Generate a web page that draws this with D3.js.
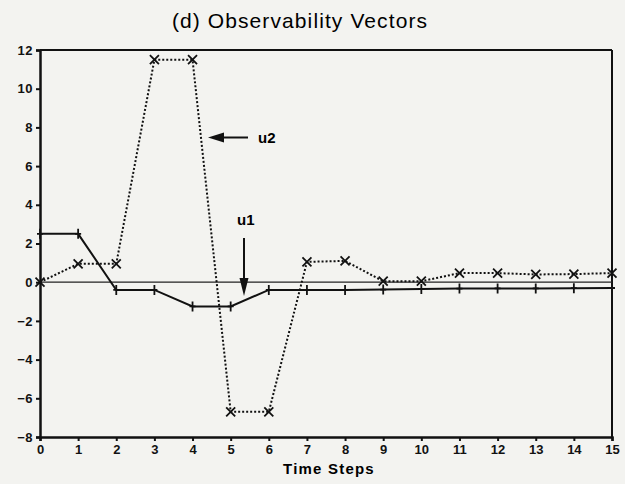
<!DOCTYPE html>
<meta charset="utf-8">
<script src="https://d3js.org/d3.v7.min.js"></script>
<style>
  body { margin: 0; background: #f3f3f0; }
  text { font-family: "Liberation Sans", Arial, sans-serif; }
</style>
<div id="my_dataviz"></div>
<script>
// Data
var steps = d3.range(0, 16);
var u1 = [2.5, 2.5, -0.4, -0.4, -1.25, -1.25, -0.4, -0.4, -0.4, -0.38, -0.35, -0.33, -0.32, -0.32, -0.31, -0.3];
var u2 = [0, 0.95, 0.95, 11.5, 11.5, -6.7, -6.7, 1.05, 1.1, 0.05, 0.05, 0.47, 0.47, 0.4, 0.42, 0.47];
var yTicks = [-8, -6, -4, -2, 0, 2, 4, 6, 8, 10, 12];

var margin = {top: 50, right: 13, bottom: 47, left: 40},
    width = 625 - margin.left - margin.right,
    height = 484 - margin.top - margin.bottom;

var root = d3.select("#my_dataviz")
  .append("svg")
    .attr("width", 625)
    .attr("height", 484);

root.append("text")
  .attr("x", 300).attr("y", 28)
  .attr("text-anchor", "middle")
  .style("font-size", "21px")
  .style("letter-spacing", "1.1px")
  .text("(d) Observability Vectors");

var svg = root.append("g")
  .attr("transform", "translate(" + margin.left + "," + margin.top + ")");

var x = d3.scaleLinear().domain([0, 15]).range([0, width]);
var y = d3.scaleLinear().domain([-8, 12]).range([height, 0]);

// Axes
var xAxis = svg.append("g")
  .attr("transform", "translate(0," + height + ")")
  .call(d3.axisBottom(x).tickValues(steps).tickSize(4).tickPadding(4).tickFormat(d3.format("d")));
var yAxis = svg.append("g")
  .call(d3.axisLeft(y).tickValues(yTicks).tickSize(4).tickPadding(3));

[xAxis, yAxis].forEach(function(a) {
  a.select(".domain").attr("stroke", "#111").attr("stroke-width", 2.5);
  a.selectAll(".tick line").attr("stroke", "#111").attr("stroke-width", 2);
  a.selectAll(".tick text").attr("fill", "#111").style("font-size", "13px").style("font-weight", "bold")
    .style("font-family", "'Liberation Sans', Arial, sans-serif");
});
yAxis.selectAll(".tick text").style("letter-spacing", "0.5px");

// Top and right frame
svg.append("line").attr("x1", 0).attr("x2", width).attr("y1", 0).attr("y2", 0)
  .attr("stroke", "#111").attr("stroke-width", 2);
svg.append("line").attr("x1", width).attr("x2", width).attr("y1", 0).attr("y2", height)
  .attr("stroke", "#111").attr("stroke-width", 2);

// Zero line
svg.append("line").attr("x1", 0).attr("x2", width).attr("y1", y(0)).attr("y2", y(0))
  .attr("stroke", "#222").attr("stroke-width", 1.3);

var line = d3.line().x(function(d, i) { return x(steps[i]); }).y(function(d) { return y(d); });

// u1: solid with + markers
svg.append("path").datum(u1)
  .attr("d", line).attr("fill", "none")
  .attr("stroke", "#111").attr("stroke-width", 2);
svg.selectAll("u1marks").data(u1).enter().append("path")
  .attr("transform", function(d, i) { return "translate(" + x(steps[i]) + "," + y(d) + ")"; })
  .attr("d", "M0,-5V5M-3,0H3")
  .attr("stroke", "#111").attr("stroke-width", 1.8);

// u2: dotted with x markers
svg.append("path").datum(u2)
  .attr("d", line).attr("fill", "none")
  .attr("stroke", "#111").attr("stroke-width", 2)
  .attr("stroke-dasharray", "2,2");
svg.selectAll("u2marks").data(u2).enter().append("path")
  .attr("transform", function(d, i) { return "translate(" + x(steps[i]) + "," + y(d) + ")"; })
  .attr("d", "M-4.5,-4.5L4.5,4.5M-4.5,4.5L4.5,-4.5")
  .attr("stroke", "#111").attr("stroke-width", 1.8);

// Annotations
var lab = root.append("g");
lab.append("text").attr("x", 258).attr("y", 143).style("font-size", "15px").style("font-weight", "bold").text("u2");
lab.append("line").attr("x1", 222).attr("x2", 248).attr("y1", 137.5).attr("y2", 137.5)
  .attr("stroke", "#111").attr("stroke-width", 2);
lab.append("path").attr("d", "M208,137.5L224,132.5L224,142.5Z").attr("fill", "#111");

lab.append("text").attr("x", 237).attr("y", 225).style("font-size", "15px").style("font-weight", "bold").text("u1");
lab.append("line").attr("x1", 244).attr("x2", 244).attr("y1", 238).attr("y2", 282)
  .attr("stroke", "#111").attr("stroke-width", 2);
lab.append("path").attr("d", "M244,296L239.5,278L248.5,278Z").attr("fill", "#111");

// X label
root.append("text")
  .attr("x", 329).attr("y", 474)
  .attr("text-anchor", "middle")
  .style("font-size", "15px").style("font-weight", "bold")
  .style("letter-spacing", "1.2px")
  .text("Time Steps");
</script>
